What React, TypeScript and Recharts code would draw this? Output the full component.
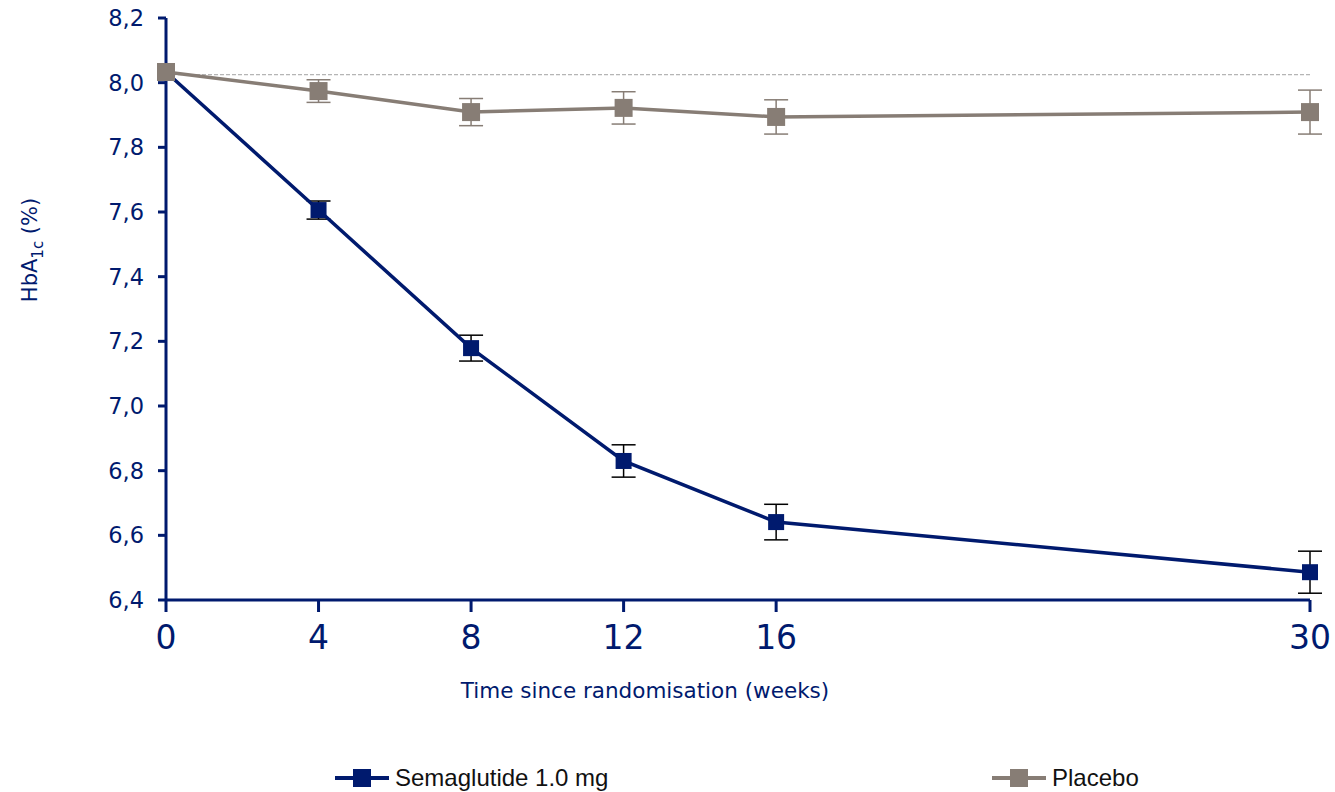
import { ErrorBar, Line, LineChart, ReferenceLine, XAxis, YAxis } from 'recharts';

const weeks = [0, 4, 8, 12, 16, 30];
const semaglutide = [8.033, 7.606, 7.179, 6.83, 6.641, 6.486];
const semaglutideErr = [0, 0.028, 0.04, 0.05, 0.055, 0.065];
const placebo = [8.033, 7.974, 7.909, 7.922, 7.894, 7.909];
const placeboErr = [0, 0.035, 0.042, 0.05, 0.053, 0.068];
const yTicks = [6.4, 6.6, 6.8, 7.0, 7.2, 7.4, 7.6, 7.8, 8.0, 8.2];
const baseline = 8.025;

const NAVY = '#001A6E';
const GREY = '#877D75';
const FONT = '"DejaVu Sans", Verdana, sans-serif';

const data = weeks.map((w, i) => ({
  week: w,
  sema: semaglutide[i],
  semaErr: semaglutideErr[i],
  placebo: placebo[i],
  placeboErr: placeboErr[i]
}));

const squareDot = (color: string, size: number) => (props: any) => {
  const { cx, cy, index } = props;
  if (cx == null || cy == null) return <g key={index} />;
  return <rect key={index} x={cx - size / 2} y={cy - size / 2} width={size} height={size} fill={color} />;
};

function LegendItem({ color, label, left }: { color: string; label: string; left: number }) {
  return (
    <div style={{ position: 'absolute', left, top: 763, height: 30, display: 'flex', alignItems: 'center' }}>
      <svg width={54} height={18}>
        <line x1={0} y1={9} x2={54} y2={9} stroke={color} strokeWidth={4} />
        <rect x={18} y={0} width={18} height={18} fill={color} />
      </svg>
      <span style={{ fontFamily: '"Liberation Sans", Arial, sans-serif', fontSize: 24, color: '#111', marginLeft: 6 }}>{label}</span>
    </div>
  );
}

function YLabel() {
  return (
    <text x={37} y={250} transform="rotate(-90 37 250)" textAnchor="middle" fill={NAVY} fontFamily={FONT} fontSize={21}>
      HbA<tspan fontSize={15} dy={6}>1c</tspan><tspan dy={-6}> (%)</tspan>
    </text>
  );
}

export default function App() {
  return (
    <div style={{ position: 'absolute', left: 0, top: 0, width: 1335, height: 792, overflow: 'hidden' }}>
      <LineChart width={1335} height={792} data={data} margin={{ top: 18, right: 25, left: 86, bottom: 132 }}>
        <XAxis
          dataKey="week"
          type="number"
          domain={[0, 30]}
          ticks={weeks}
          axisLine={{ stroke: NAVY, strokeWidth: 3 }}
          tickLine={{ stroke: NAVY, strokeWidth: 3 }}
          tickSize={12}
          tickMargin={14}
          tick={{ fill: NAVY, fontSize: 33, fontFamily: FONT }}
          label={{ value: 'Time since randomisation (weeks)', position: 'insideBottom', offset: -38, dx: -93, fill: NAVY, fontSize: 21.5, fontFamily: FONT }}
          height={60}
        />
        <YAxis
          type="number"
          domain={[6.4, 8.2]}
          ticks={yTicks}
          tickFormatter={(v: number) => v.toFixed(1).replace('.', ',')}
          axisLine={{ stroke: NAVY, strokeWidth: 3 }}
          tickLine={{ stroke: NAVY, strokeWidth: 3 }}
          tickSize={8}
          tickMargin={14}
          tick={{ fill: NAVY, fontSize: 22.5, fontFamily: FONT }}
          width={80}
          label={<YLabel />}
        />
        <ReferenceLine y={baseline} stroke="#B5B5B5" strokeWidth={1.2} strokeDasharray="4 2" />
        <Line
          dataKey="sema"
          stroke={NAVY}
          strokeWidth={3.5}
          dot={squareDot(NAVY, 16)}
          activeDot={false}
          isAnimationActive={false}
        >
          <ErrorBar dataKey="semaErr" width={12} stroke="#000" strokeWidth={1.5} direction="y" />
        </Line>
        <Line
          dataKey="placebo"
          stroke={GREY}
          strokeWidth={3.5}
          dot={squareDot(GREY, 18)}
          activeDot={false}
          isAnimationActive={false}
        >
          <ErrorBar dataKey="placeboErr" width={12} stroke={GREY} strokeWidth={1.5} direction="y" />
        </Line>
      </LineChart>
      <LegendItem color={NAVY} label="Semaglutide 1.0 mg" left={335} />
      <LegendItem color={GREY} label="Placebo" left={992} />
    </div>
  );
}
